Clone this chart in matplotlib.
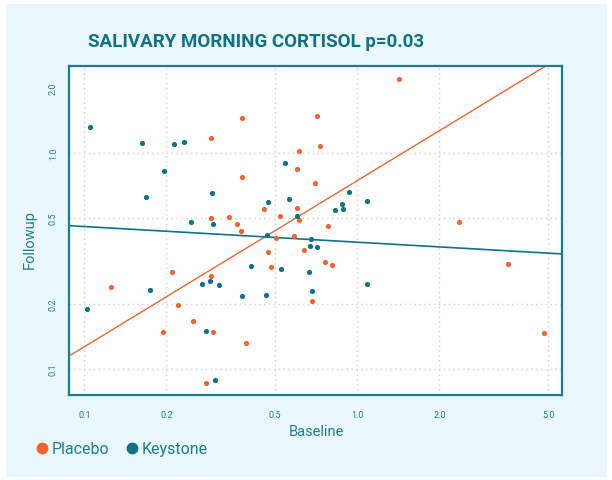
import matplotlib
matplotlib.use("Agg")
import numpy as np
import matplotlib.pyplot as plt
from matplotlib.ticker import FixedLocator, NullLocator, FixedFormatter
from matplotlib.lines import Line2D
from matplotlib.patches import Rectangle

# Placebo group (baseline, followup)
placebo_base = [0.29, 0.29, 0.34, 0.125, 0.21, 0.29, 0.22, 0.25, 0.295, 0.194,
                0.279, 1.42, 0.377, 0.714, 0.613, 0.728, 0.60, 0.379, 0.698, 0.60,
                0.456, 0.362, 0.521, 0.61, 0.375, 0.779, 0.504, 0.585, 0.471, 0.636,
                0.483, 0.76, 0.806, 0.681, 0.392, 2.36, 3.56, 4.82]
placebo_follow = [1.17, 0.50, 0.505, 0.24, 0.28, 0.27, 0.197, 0.166, 0.148, 0.148,
                  0.086, 2.21, 1.45, 1.49, 1.02, 1.08, 0.846, 0.777, 0.729, 0.556,
                  0.552, 0.468, 0.513, 0.49, 0.435, 0.461, 0.404, 0.413, 0.349, 0.354,
                  0.298, 0.314, 0.303, 0.207, 0.132, 0.479, 0.305, 0.147]

# Keystone group (baseline, followup)
keystone_base = [0.105, 0.163, 0.213, 0.231, 0.196, 0.168, 0.294, 0.2465, 0.296, 0.27,
                 0.289, 0.311, 0.174, 0.102, 0.2785, 0.30, 0.543, 0.932, 0.562, 0.471,
                 0.881, 0.889, 0.831, 1.085, 0.603, 0.467, 0.677, 0.671, 0.714, 0.408,
                 0.527, 0.664, 0.379, 0.462, 0.681, 1.085]
keystone_follow = [1.32, 1.11, 1.10, 1.13, 0.823, 0.628, 0.653, 0.479, 0.469, 0.248,
                   0.256, 0.246, 0.231, 0.19, 0.150, 0.089, 0.899, 0.662, 0.614, 0.593,
                   0.582, 0.552, 0.546, 0.601, 0.511, 0.416, 0.40, 0.372, 0.366, 0.301,
                   0.29, 0.282, 0.218, 0.22, 0.23, 0.247]

# log10(followup) = intercept + slope * log10(baseline)
placebo_fit = (-0.128, 0.769)
keystone_fit = (-0.413, -0.0725)

xticks = [0.1, 0.2, 0.5, 1.0, 2.0, 5.0]
yticks = [0.1, 0.2, 0.5, 1.0, 2.0]
xlim = (0.0879, 5.62)
ylim = (0.0758, 2.527)

ORANGE = "#f3642f"
TEAL = "#0f7385"
FRAME = "#1b7d8c"
TXT = "#1f7f8f"
BG = "#eaf7fc"

plt.rcParams['font.family'] = ['Roboto', 'DejaVu Sans']

fig = plt.figure(figsize=(6.12, 4.81), dpi=100, facecolor="white")
bg = Rectangle((6 / 612, 1 - 478 / 481), 601 / 612, 473 / 481,
               transform=fig.transFigure, facecolor=BG, edgecolor="none", zorder=-10)
fig.add_artist(bg)

ax = fig.add_axes([69 / 612, 1 - 396 / 481, 493 / 612, 329 / 481])
ax.set_zorder(1)
ax.set_facecolor("white")
ax.set_xscale("log")
ax.set_yscale("log")
ax.set_xlim(*xlim)
ax.set_ylim(*ylim)

ax.xaxis.set_major_locator(FixedLocator(xticks))
ax.xaxis.set_major_formatter(FixedFormatter(["%.1f" % v for v in xticks]))
ax.xaxis.set_minor_locator(NullLocator())
ax.yaxis.set_major_locator(FixedLocator(yticks))
ax.yaxis.set_major_formatter(FixedFormatter(["%.1f" % v for v in yticks]))
ax.yaxis.set_minor_locator(NullLocator())

ax.grid(True, which="major", color="#d0d0d0", linestyle=(0, (1, 2.5)), linewidth=1.0)
ax.yaxis.get_gridlines()[-1].set_visible(False)
ax.set_axisbelow(True)

ax.tick_params(axis="both", length=0, labelsize=6.5, labelcolor=TXT)
ax.tick_params(axis="x", pad=11)
ax.tick_params(axis="y", pad=8)
for lab in ax.get_yticklabels():
    lab.set_rotation(90)
    lab.set_va("center")

for sp in ax.spines.values():
    sp.set_color(FRAME)
    sp.set_linewidth(1.6)

# regression lines
xs = np.array(xlim)
for (a, b), col, lw in [(placebo_fit, ORANGE, 1.0), (keystone_fit, TEAL, 1.2)]:
    ax.plot(xs, 10 ** (a + b * np.log10(xs)), color=col, lw=lw, zorder=2)

ax.scatter(placebo_base, placebo_follow, s=14, color=ORANGE, zorder=3, linewidths=0)
ax.scatter(keystone_base, keystone_follow, s=14, color=TEAL, zorder=3, linewidths=0)

fig.text(256 / 612, 1 - 42 / 481, "SALIVARY MORNING CORTISOL p=0.03",
         ha="center", va="center", fontsize=13.5, fontweight="bold", color=TEAL)
fig.text(316 / 612, 1 - 432 / 481, "Baseline", ha="center", va="center",
         fontsize=10.5, color=TXT)
fig.text(30 / 612, 1 - 240 / 481, "Followup", ha="center", va="center",
         fontsize=10.5, color=TXT, rotation=90)

handles = [Line2D([], [], marker="o", ls="none", color=ORANGE, markersize=7.5),
           Line2D([], [], marker="o", ls="none", color=TEAL, markersize=7.5)]
leg = fig.legend(handles, ["Placebo", "Keystone"], loc="center left",
                 bbox_to_anchor=(20 / 612, 1 - 450 / 481), ncol=2, frameon=False,
                 fontsize=11.5, handletextpad=0.1, columnspacing=0.9,
                 handlelength=1.0)
for t in leg.get_texts():
    t.set_color(TXT)

fig.savefig("out.png", dpi=100, facecolor=fig.get_facecolor())
